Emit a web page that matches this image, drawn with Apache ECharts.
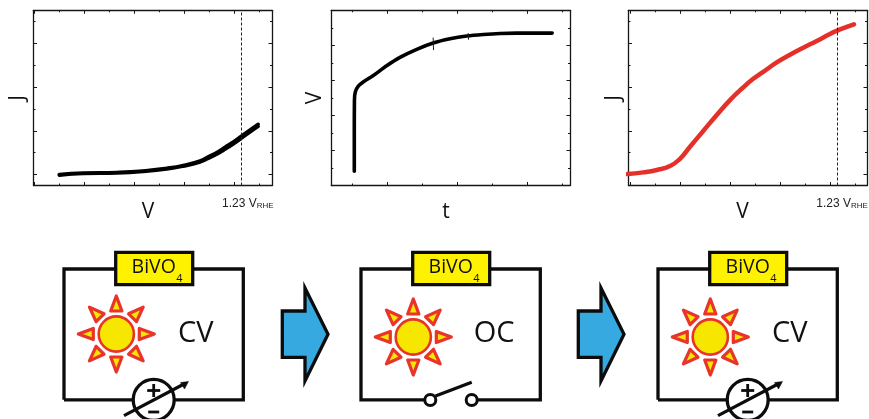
<!DOCTYPE html>
<html><head><meta charset="utf-8">
<style>html,body{margin:0;padding:0;background:#fff}#c{width:869px;height:419px}</style>
<script src="https://cdn.jsdelivr.net/npm/echarts@6/dist/echarts.min.js"></script>
</head><body><div id="c"></div>
<script>
// ---- data ----
const leftV        = [0.501,0.597,0.731,0.837,0.931,0.997,1.064,1.097,1.131,1.164,1.197,1.232,1.264,1.297];
const leftJForward = [0.00,0.07,0.10,0.17,0.29,0.42,0.63,0.81,1.01,1.25,1.49,1.78,2.04,2.30];
const leftJReverse = [-0.03,0.04,0.07,0.14,0.25,0.38,0.57,0.73,0.93,1.15,1.39,1.68,1.94,2.20];

const midT = [104.6,104.6,105,107.5,116,130,159,197,235,283,330,378,426,473,521,569,616,670];
const midV = [0.081,0.300,0.487,0.534,0.567,0.591,0.628,0.683,0.731,0.777,0.813,0.837,0.853,0.862,0.868,0.870,0.870,0.870];
const spikeA = [[330,0.842],[331,0.775]];
const spikeB = [[430,0.868],[431,0.834]];

const rightV = [0.390,0.454,0.508,0.561,0.601,0.641,0.694,0.748,0.801,0.854,0.894,0.934,0.988,1.041,1.094,1.148,1.201,1.230,1.268,1.297];
const rightJ = [0.02,0.10,0.21,0.39,0.72,1.27,1.99,2.72,3.40,3.98,4.37,4.69,5.12,5.47,5.79,6.10,6.42,6.57,6.74,6.86];

const rheVoltage = 1.23;
const vMajor = [0.4,0.6,0.8,1.0,1.2], vMinor = [0.5,0.7,0.9,1.1,1.3];
const jMajor = [0,2,4,6],             jMinor = [1,3,5,7];
const tMajor = [200,400,600],         tMinor = [100,300,500,700];
const uMajor = [0.2,0.4,0.6,0.8],     uMinor = [0.1,0.3,0.5,0.7,0.9];
const stages = ['CV','OC','CV'];

// ---- axes ----
const INK = '#161616';
function axisFamily(dim, grid, min, max, major, minor) {
  const sides = dim === 'x' ? ['bottom','top'] : ['left','right'];
  const out = [];
  sides.forEach(pos => {
    [[major,3.5],[minor,2]].forEach(([vals,len],k) => {
      out.push({
        type:'value', gridIndex:grid, position:pos, min, max,
        axisLine:{show:k===0,onZero:false,lineStyle:{color:INK,width:1.3}},
        axisTick:{show:true,inside:true,length:len,customValues:vals,lineStyle:{color:INK,width:1}},
        axisLabel:{show:false}, splitLine:{show:false}, minorTick:{show:false}
      });
    });
  });
  return out;
}
const xAxis = [].concat(
  axisFamily('x',0,0.398,1.352,vMajor,vMinor),
  axisFamily('x',1,38.9,720.9,tMajor,tMinor),
  axisFamily('x',2,0.395,1.349,vMajor,vMinor));
const yAxis = [].concat(
  axisFamily('y',0,-0.5,7.5,jMajor,jMinor),
  axisFamily('y',1,0,1,uMajor,uMinor),
  axisFamily('y',2,-0.5,7.5,jMajor,jMinor));

const zip = (a,b) => a.map((v,i)=>[v,b[i]]);
function line(grid,data,color,width,extra){
  return Object.assign({type:'line',xAxisIndex:grid*4,yAxisIndex:grid*4,data,showSymbol:false,symbol:'none',
    smooth:0.5,clip:false,silent:true,animation:false,lineStyle:{color,width,cap:'round',join:'round'}},extra||{});
}
const rheMark = {markLine:{silent:true,symbol:'none',animation:false,label:{show:false},
  lineStyle:{color:'#222',type:[3,2],width:1},data:[{xAxis:rheVoltage}]}};

// ---- schematic ----
const els = [];
const BLK = '#0c0c0c', RED = '#e8342a', YEL = '#f6e600', BLUE = '#36a9e1';
function txt(x,y,text,size,extra){
  els.push({type:'text',x,y,rotation:(extra&&extra.rot)||0,z:10,silent:true,style:{text,fontFamily:(extra&&extra.font)||'Open Sans',fontSize:size,fill:(extra&&extra.fill)||'#111',
    align:(extra&&extra.align)||'center',verticalAlign:'middle'}});
}
function poly(pts,fill,stroke,lw,z){els.push({type:'polygon',z:z||3,silent:true,shape:{points:pts},style:{fill,stroke,lineWidth:lw,lineJoin:'miter',miterLimit:20}});}
function pl(pts,lw,z){els.push({type:'polyline',z:z||2,silent:true,shape:{points:pts},style:{fill:'none',stroke:BLK,lineWidth:lw,lineJoin:'miter'}});}
function circ(cx,cy,r,fill,stroke,lw,z){els.push({type:'circle',z:z||4,silent:true,shape:{cx,cy,r},style:{fill,stroke,lineWidth:lw}});}

function sun(cx,cy){
  for(let i=0;i<8;i++){
    const a=i*Math.PI/4, c=Math.cos(a), s=Math.sin(a);
    const P=(r,w)=>[cx+c*r-s*w,cy+s*r+c*w];
    els.push({type:'polygon',z:3,silent:true,shape:{points:[P(38,0),P(23,5.6),P(23,-5.6)]},
      style:{fill:YEL,stroke:RED,lineWidth:3.2,lineJoin:'round'}});
  }
  circ(cx,cy,17.6,YEL,RED,2.6,4);
}
function panel(dx,kind,label,sunY,labelDx){
  const L=64+dx,R=243.3+dx,T=269,B=399.8;
  if(kind==='source'){
    pl([[L,B],[L,T],[R,T],[R,B],[L,B]],3.3);
    const cx=153.7+dx;
    circ(cx,B,20.5,'#fff',BLK,3.3,4);
    pl([[cx-6.5,390.5],[cx+6.5,390.5]],2.8,5);
    pl([[cx,384],[cx,397]],2.8,5);
    pl([[cx-5.5,412],[cx+5.5,412]],2.8,5);
    pl([[124+dx,415.7],[184+dx,384]],3.2,6);
    poly([[188.5+dx,381.5],[180.5+dx,382.5],[184.5+dx,389]],BLK,BLK,0.5,6);
  } else {
    const a=133.3+dx, b=174.7+dx;
    pl([[a-6,B],[L,B],[L,T],[R,T],[R,B],[b+6,B]],3.3);
    circ(a,400,5.5,'#fff',BLK,3,4);
    circ(b,400,5.5,'#fff',BLK,3,4);
    pl([[a+5.2,396],[b,382.3]],3.2,5);
  }
  els.push({type:'rect',z:4,silent:true,shape:{x:115.7+dx,y:252.3,width:77,height:32.4},style:{fill:'#fff200',stroke:BLK,lineWidth:3.3}});
  txt(153.7+dx,267.5,'BiVO',19.5);
  txt(179.5+dx,278.5,'4',11);
  sun(116.3+dx,sunY);
  txt(195.7+dx+labelDx,334,label,29);
}
function bigArrow(dx){
  poly([[282.3+dx,311],[305+dx,311],[305+dx,288],[328+dx,334.3],[305+dx,381],[305+dx,357.3],[282.3+dx,357.3]],BLUE,BLK,3.3,3);
}
panel(0,'source',stages[0],334,0);
panel(297,'switch',stages[1],337,1.5);
panel(594,'source',stages[2],337,0);
bigArrow(0); bigArrow(296);

// axis titles
txt(148,212.5,'V',21);
txt(446,212.5,'t',21);
txt(742.5,212.5,'V',21);
txt(18,98,'J',21,{rot:Math.PI/2});
txt(315,98,'V',21,{rot:Math.PI/2});
txt(614,98,'J',21,{rot:Math.PI/2});
// 1.23 V(RHE) notes
function rhe(x){
  els.push({type:'text',x,y:203,z:10,silent:true,style:{text:'{a|1.23 V}{b|RHE}',verticalAlign:'middle',align:'left',
    rich:{a:{fontFamily:'Liberation Sans',fontSize:12,fill:'#222',verticalAlign:'bottom',lineHeight:13},
          b:{fontFamily:'Liberation Sans',fontSize:8,fill:'#222',verticalAlign:'bottom',lineHeight:11}}}});
}
rhe(222); rhe(816.3);

const chart = echarts.init(document.getElementById('c'),null,{renderer:'canvas'});
chart.setOption({
  animation:false, backgroundColor:'#fff',
  grid:[
    {left:33.5,top:10.3,width:238.5,height:175.2},
    {left:331.3,top:10.3,width:238.7,height:175.2},
    {left:628.5,top:10.3,width:238.5,height:175.2}
  ],
  xAxis, yAxis,
  series:[
    line(0,zip(leftV,leftJForward),'#000',3.4,rheMark),
    line(0,zip(leftV,leftJReverse),'#000',3.4),
    line(1,zip(midT,midV),'#000',3.6,{smooth:0.3}),
    line(1,spikeA,'#222',1,{smooth:false}),
    line(1,spikeB,'#222',1,{smooth:false}),
    line(2,zip(rightV,rightJ),'#e5302a',4.5,rheMark)
  ],
  graphic:{elements:els}
});
</script></body></html>
